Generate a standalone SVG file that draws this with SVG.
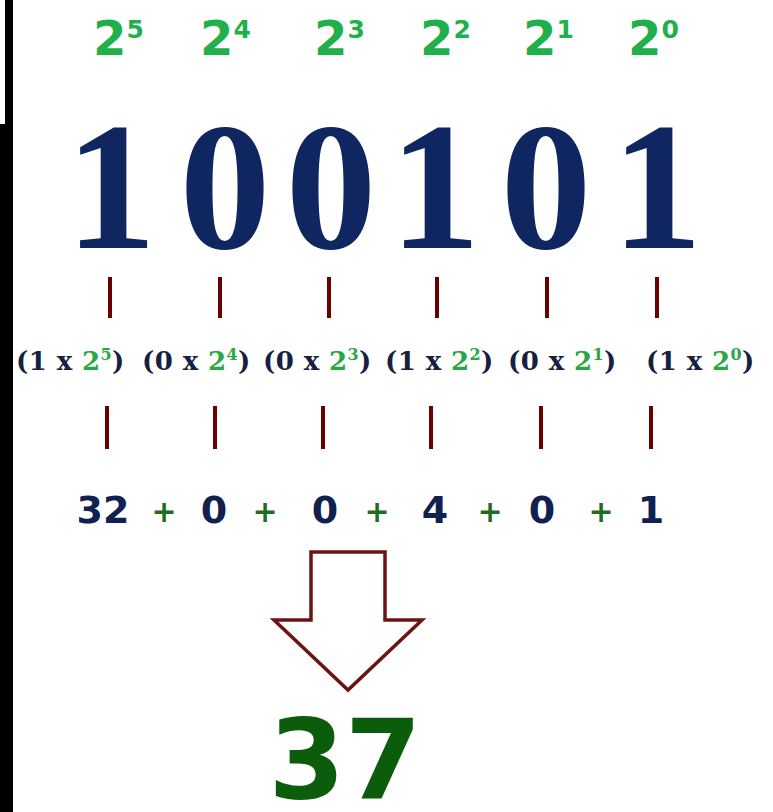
<svg xmlns="http://www.w3.org/2000/svg" width="773" height="812" viewBox="0 0 773 812">
<style>
.pw{font-family:"DejaVu Sans",sans-serif;font-weight:bold;fill:#1fb04c}
.big{font-family:"Liberation Serif",serif;font-weight:bold;fill:#0f2660;font-size:182px;text-anchor:middle}
.mid{font-family:"DejaVu Serif",serif;font-weight:bold;fill:#14213f;font-size:26px;letter-spacing:0.4px}
.g{fill:#27a844}
.sum{font-family:"DejaVu Sans",sans-serif;font-weight:bold;font-size:38px;text-anchor:middle}
.n{fill:#10204f}
.p{fill:#1f6e1f;font-size:30px}
.bar{stroke:#6a0000;stroke-width:4}
</style>
<rect width="773" height="812" fill="#ffffff"/>
<g id="frame">
<rect x="0" y="124" width="13" height="688" fill="#000"/>
<rect x="5" y="0" width="8" height="124" fill="#000"/>
</g>
<g id="powers" class="pw">
<text x="93" y="55" font-size="48">2<tspan font-size="25" dy="-17">5</tspan></text>
<text x="200" y="55" font-size="48">2<tspan font-size="25" dy="-17">4</tspan></text>
<text x="314" y="55" font-size="48">2<tspan font-size="25" dy="-17">3</tspan></text>
<text x="420" y="55" font-size="48">2<tspan font-size="25" dy="-17">2</tspan></text>
<text x="523" y="55" font-size="48">2<tspan font-size="25" dy="-17">1</tspan></text>
<text x="628" y="55" font-size="48">2<tspan font-size="25" dy="-17">0</tspan></text>
</g>
<g id="binary">
<text class="big" x="111" y="248">1</text>
<text class="big" x="225" y="248">0</text>
<text class="big" x="331" y="248">0</text>
<text class="big" x="435" y="248">1</text>
<text class="big" x="546" y="248">0</text>
<text class="big" x="657" y="248">1</text>
</g>
<g id="connectors">
<line class="bar" x1="110" y1="277" x2="110" y2="318"/>
<line class="bar" x1="220" y1="277" x2="220" y2="318"/>
<line class="bar" x1="329" y1="277" x2="329" y2="318"/>
<line class="bar" x1="437" y1="277" x2="437" y2="318"/>
<line class="bar" x1="547" y1="277" x2="547" y2="318"/>
<line class="bar" x1="657" y1="277" x2="657" y2="318"/>
<line class="bar" x1="107" y1="406" x2="107" y2="449"/>
<line class="bar" x1="215" y1="406" x2="215" y2="449"/>
<line class="bar" x1="323" y1="406" x2="323" y2="449"/>
<line class="bar" x1="431" y1="406" x2="431" y2="449"/>
<line class="bar" x1="541" y1="406" x2="541" y2="449"/>
<line class="bar" x1="651" y1="406" x2="651" y2="449"/>
</g>
<g id="terms" class="mid">
<text x="16" y="370">(1 x <tspan class="g">2<tspan font-size="16" dy="-10">5</tspan></tspan><tspan dy="10">)</tspan></text>
<text x="142" y="370">(0 x <tspan class="g">2<tspan font-size="16" dy="-10">4</tspan></tspan><tspan dy="10">)</tspan></text>
<text x="263" y="370">(0 x <tspan class="g">2<tspan font-size="16" dy="-10">3</tspan></tspan><tspan dy="10">)</tspan></text>
<text x="385" y="370">(1 x <tspan class="g">2<tspan font-size="16" dy="-10">2</tspan></tspan><tspan dy="10">)</tspan></text>
<text x="508" y="370">(0 x <tspan class="g">2<tspan font-size="16" dy="-10">1</tspan></tspan><tspan dy="10">)</tspan></text>
<text x="646" y="370">(1 x <tspan class="g">2<tspan font-size="16" dy="-10">0</tspan></tspan><tspan dy="10">)</tspan></text>
</g>
<g id="sum" class="sum">
<text class="n" x="103" y="523">32</text>
<text class="p" x="164" y="522">+</text>
<text class="n" x="214" y="523">0</text>
<text class="p" x="265" y="522">+</text>
<text class="n" x="325" y="523">0</text>
<text class="p" x="377" y="522">+</text>
<text class="n" x="435" y="523">4</text>
<text class="p" x="490" y="522">+</text>
<text class="n" x="542" y="523">0</text>
<text class="p" x="601" y="522">+</text>
<text class="n" x="651" y="523">1</text>
</g>
<g id="arrow">
<polygon points="311,552 385,552 385,620 422,620 348,690 274,620 311,620" fill="#fff" stroke="#6b1414" stroke-width="3.5" stroke-linejoin="miter"/>
</g>
<g id="result">
<text x="345" y="798" font-family="DejaVu Sans, sans-serif" font-weight="bold" font-size="110" fill="#0b5c0b" text-anchor="middle">37</text>
</g>
</svg>
